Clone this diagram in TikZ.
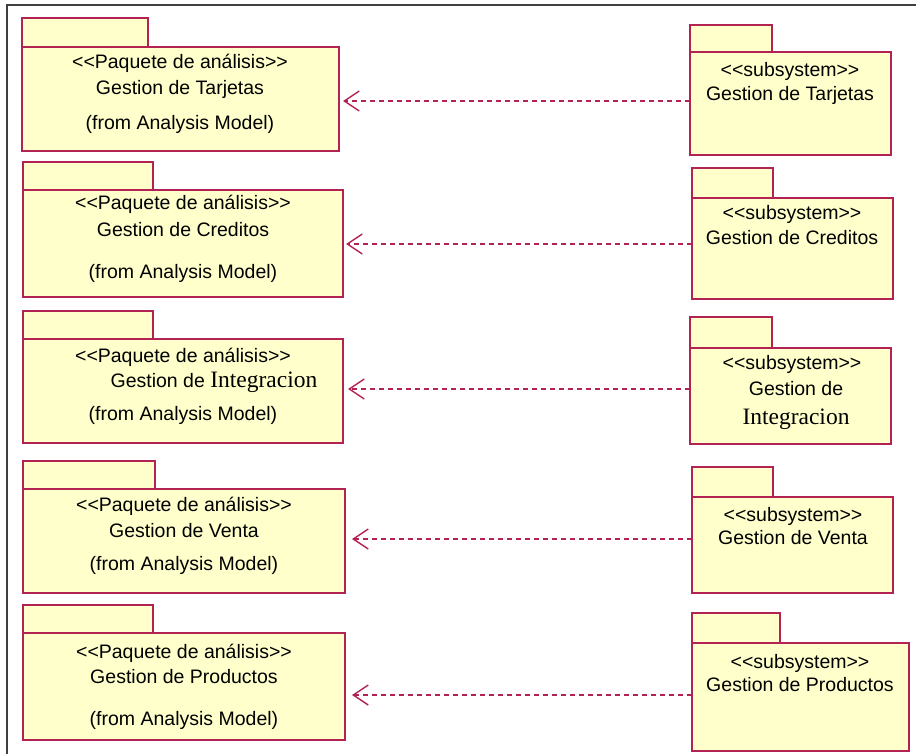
\documentclass[tikz,border=0pt]{standalone}
\usepackage{fontspec}
\setmainfont{Liberation Sans}
\newfontfamily\romanpart{Liberation Serif}
\usetikzlibrary{arrows.meta}
\definecolor{pkgfill}{RGB}{255,255,204}
\definecolor{pkgline}{RGB}{178,34,82}
\definecolor{framegray}{RGB}{64,64,64}
% stereotype brackets, kept as two separate signs
\newcommand{\stopen}{\textless\kern0pt\textless\kern0pt}
\newcommand{\stclose}{\kern0pt\textgreater\kern0pt\textgreater}
\begin{document}
\begin{tikzpicture}[x=1pt,y=-1pt,
  pkgbody/.style={draw=pkgline, fill=pkgfill, line width=1.6pt, rectangle,
                  inner sep=0pt, outer sep=0pt, anchor=north west},
  pkgtab/.style={pkgbody, anchor=south west},
  lbl/.style={inner sep=0pt, anchor=base, font=\fontsize{19.5}{22}\selectfont},
  dep/.style={draw=pkgline, line width=1.5pt, dash pattern=on 5pt off 4pt,
              -{Straight Barb[length=15pt,width=20pt,line width=1.4pt]}}]
\useasboundingbox (0,0) rectangle (916,754);

% diagram frame (left and top edges)
\draw[framegray, line width=2pt] (7,754) -- (7,5) -- (916,5);

% ---------- Gestion de Tarjetas ----------
\node[pkgbody, minimum width=317, minimum height=104] (a1) at (22,47) {};
\node[pkgtab, minimum width=126, minimum height=29] (a1t) at (a1.north west) {};
\node[lbl] (a1s) at (180,69) {\stopen Paquete de análisis\stclose};
\node[lbl] (a1n) at (180,95) {Gestion de Tarjetas};
\node[lbl] (a1f) at (180,130) {(from Analysis Model)};

\node[pkgbody, minimum width=201, minimum height=103] (b1) at (690,52) {};
\node[pkgtab, minimum width=82, minimum height=27] (b1t) at (b1.north west) {};
\node[lbl] (b1s) at (790,77) {\stopen subsystem\stclose};
\node[lbl] (b1n) at (790,101) {Gestion de Tarjetas};

\coordinate (y1) at (0,101);
\draw[dep, shorten >=4pt] (b1.west |- y1) -- (a1.east |- y1);

% ---------- Gestion de Creditos ----------
\node[pkgbody, minimum width=320, minimum height=107] (a2) at (23,190) {};
\node[pkgtab, minimum width=130, minimum height=28] (a2t) at (a2.north west) {};
\node[lbl] (a2s) at (183,210) {\stopen Paquete de análisis\stclose};
\node[lbl] (a2n) at (183,237) {Gestion de Creditos};
\node[lbl] (a2f) at (183,279) {(from Analysis Model)};

\node[pkgbody, minimum width=201, minimum height=101] (b2) at (692,198) {};
\node[pkgtab, minimum width=81, minimum height=30] (b2t) at (b2.north west) {};
\node[lbl] (b2s) at (792,220) {\stopen subsystem\stclose};
\node[lbl] (b2n) at (792,245) {Gestion de Creditos};

\coordinate (y2) at (0,244);
\draw[dep, shorten >=3pt] (b2.west |- y2) -- (a2.east |- y2);

% ---------- Gestion de Integracion ----------
\node[pkgbody, minimum width=320, minimum height=104] (a3) at (23,339) {};
\node[pkgtab, minimum width=130, minimum height=28] (a3t) at (a3.north west) {};
\node[lbl] (a3s) at (183,362) {\stopen Paquete de análisis\stclose};
\node[lbl] (a3n) at (214,387) {Gestion de {\romanpart\fontsize{23.5}{26}\selectfont Integracion}};
\node[lbl] (a3f) at (183,420) {(from Analysis Model)};

\node[pkgbody, minimum width=201, minimum height=96] (b3) at (690,348) {};
\node[pkgtab, minimum width=82, minimum height=31] (b3t) at (b3.north west) {};
\node[lbl] (b3s) at (792,369) {\stopen subsystem\stclose};
\node[lbl] (b3n) at (796,395) {Gestion de};
\node[lbl, font=\romanpart\fontsize{23.5}{26}\selectfont] (b3i) at (796,424) {Integracion};

\coordinate (y3) at (0,389);
\draw[dep, shorten >=5pt] (b3.west |- y3) -- (a3.east |- y3);

% ---------- Gestion de Venta ----------
\node[pkgbody, minimum width=322, minimum height=104] (a4) at (23,489) {};
\node[pkgtab, minimum width=132, minimum height=28] (a4t) at (a4.north west) {};
\node[lbl] (a4s) at (184,511) {\stopen Paquete de análisis\stclose};
\node[lbl] (a4n) at (184,537) {Gestion de Venta};
\node[lbl] (a4f) at (184,570) {(from Analysis Model)};

\node[pkgbody, minimum width=201, minimum height=96] (b4) at (692,497) {};
\node[pkgtab, minimum width=81, minimum height=30] (b4t) at (b4.north west) {};
\node[lbl] (b4s) at (793,521) {\stopen subsystem\stclose};
\node[lbl] (b4n) at (793,544) {Gestion de Venta};

\coordinate (y4) at (0,539);
\draw[dep, shorten >=7pt] (b4.west |- y4) -- (a4.east |- y4);

% ---------- Gestion de Productos ----------
\node[pkgbody, minimum width=322, minimum height=107] (a5) at (23,633) {};
\node[pkgtab, minimum width=130, minimum height=28] (a5t) at (a5.north west) {};
\node[lbl] (a5s) at (184,658) {\stopen Paquete de análisis\stclose};
\node[lbl] (a5n) at (184,683) {Gestion de Productos};
\node[lbl] (a5f) at (184,725) {(from Analysis Model)};

\node[pkgbody, minimum width=217, minimum height=108] (b5) at (692,643) {};
\node[pkgtab, minimum width=88, minimum height=30] (b5t) at (b5.north west) {};
\node[lbl] (b5s) at (800,668) {\stopen subsystem\stclose};
\node[lbl] (b5n) at (800,691) {Gestion de Productos};

\coordinate (y5) at (0,695);
\draw[dep, shorten >=7pt] (b5.west |- y5) -- (a5.east |- y5);
\end{tikzpicture}
\end{document}
